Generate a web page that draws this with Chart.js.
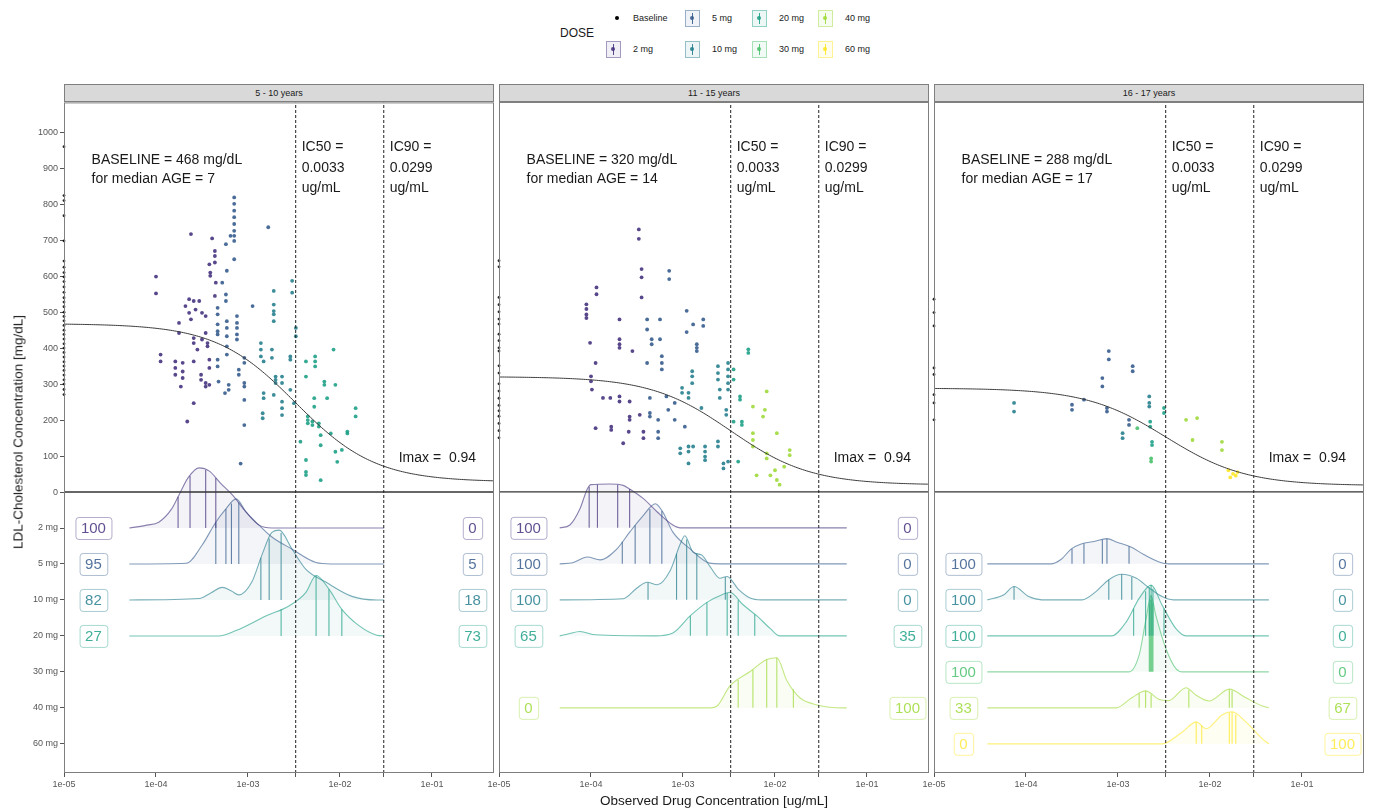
<!DOCTYPE html>
<html>
<head>
<meta charset="utf-8">
<script src="https://cdn.jsdelivr.net/npm/chart.js@4/dist/chart.umd.min.js"></script>
<style>
  body { margin:0; width:1374px; height:811px; background:#fff; position:relative; overflow:hidden;
         font-family:"Liberation Sans", Arial, sans-serif; color:#1a1a1a; }
  canvas { position:absolute; }
  .strip { position:absolute; top:84px; height:18px; background:#d9d9d9; border:1px solid #7f7f7f;
           box-sizing:border-box; font-size:9px; line-height:16px; text-align:center; color:#1a1a1a; }
  .title { position:absolute; font-size:13.5px; color:#1a1a1a; white-space:nowrap; }
  .leg-title { position:absolute; font-size:12px; color:#1a1a1a; }
  .leg-text { position:absolute; font-size:9px; color:#1a1a1a; white-space:nowrap; transform:translateY(-50%); }
  .key { position:absolute; width:15px; height:17px; box-sizing:border-box; border:1px solid; }
  .key .ln { position:absolute; left:6px; top:2px; width:1px; height:11px; }
  .key .dt { position:absolute; left:4.5px; top:5.5px; width:4px; height:4px; border-radius:50%; }
  .bdot { position:absolute; width:4px; height:4px; border-radius:50%; background:#000; }
</style>
</head>
<body>
<div id="root"></div>
<script>
// ---- categories and styling keys ----
const doses = ['2 mg', '5 mg', '10 mg', '20 mg', '30 mg', '40 mg', '60 mg'];
const doseColors = ['#46337E', '#365C8D', '#277F8E', '#1FA187', '#4AC16D', '#9FDA3A', '#FDE725'];
const doseRowY = [-100, -200, -300, -400, -500, -600, -700];
const ageGroups = ['5 - 10 years', '11 - 15 years', '16 - 17 years'];
const baselineLDL = [468, 320, 288];
const medianAge = [7, 14, 17];
const ic50 = 0.0033;
const ic90 = 0.0299;
const imax = 0.94;

// ---- axes ----
const yTickValues = [-700, -600, -500, -400, -300, -200, -100, 0, 100, 200, 300, 400, 500, 600, 700, 800, 900, 1000];
const yTickLabels = ['60 mg', '40 mg', '30 mg', '20 mg', '10 mg', '5 mg', '2 mg', '0', '100', '200', '300', '400', '500', '600', '700', '800', '900', '1000'];
const xTickValues = [1e-5, 1e-4, 1e-3, 1e-2, 1e-1];
const xTickLabels = ['1e-05', '1e-04', '1e-03', '1e-02', '1e-01'];

// ---- observations: [log10 concentration (ug/mL), LDL (mg/dL)] ----
// 5 - 10 years
const obs_p1_2mg = [[-4.0,599],[-4.0,552],[-3.95,382],[-3.95,363],[-3.79,363],[-3.79,345],[-3.79,326],[-3.75,470],[-3.75,442],[-3.73,293],[-3.71,359],[-3.71,335],[-3.71,317],[-3.68,517],[-3.66,196],[-3.64,536],[-3.64,498],[-3.62,717],[-3.62,480],[-3.59,531],[-3.57,507],[-3.59,428],[-3.59,414],[-3.59,363],[-3.59,247],[-3.55,396],[-3.53,531],[-3.51,326],[-3.51,312],[-3.5,498],[-3.5,424],[-3.46,489],[-3.46,442],[-3.46,303],[-3.46,293],[-3.44,414],[-3.44,405],[-3.42,633],[-3.42,368],[-3.42,345],[-3.42,298],[-3.41,610],[-3.41,601],[-3.39,705],[-3.36,670],[-3.36,656],[-3.36,638],[-3.36,545],[-3.35,582]];
const obs_p1_5mg = [[-3.33,512],[-3.33,494],[-3.33,466],[-3.33,447],[-3.33,438],[-3.33,368],[-3.33,349],[-3.32,307],[-3.28,582],[-3.25,275],[-3.24,689],[-3.24,549],[-3.24,531],[-3.23,615],[-3.23,475],[-3.23,456],[-3.23,433],[-3.23,405],[-3.23,382],[-3.21,298],[-3.21,284],[-3.19,712],[-3.15,819],[-3.15,801],[-3.15,782],[-3.15,764],[-3.15,745],[-3.15,726],[-3.15,712],[-3.15,698],[-3.15,647],[-3.12,489],[-3.12,470],[-3.12,456],[-3.12,438],[-3.12,424],[-3.1,340],[-3.1,326],[-3.04,373],[-3.04,359],[-3.04,303],[-3.04,293],[-3.04,256],[-3.04,186],[-3.08,79],[-2.95,517],[-2.78,736]];
const obs_p1_10mg = [[-2.86,414],[-2.86,396],[-2.86,377],[-2.83,363],[-2.83,275],[-2.83,261],[-2.84,219],[-2.84,205],[-2.74,396],[-2.74,373],[-2.72,559],[-2.72,521],[-2.72,503],[-2.72,494],[-2.72,475],[-2.72,270],[-2.7,321],[-2.7,312],[-2.7,303],[-2.63,321],[-2.63,303],[-2.63,251],[-2.63,233],[-2.63,214],[-2.54,377],[-2.54,368],[-2.54,284],[-2.52,587],[-2.52,554],[-2.5,247],[-2.48,456],[-2.48,433]];
const obs_p1_20mg = [[-2.43,140],[-2.37,363],[-2.37,321],[-2.37,89],[-2.37,56],[-2.37,47],[-2.35,210],[-2.35,200],[-2.35,191],[-2.3,196],[-2.3,186],[-2.28,261],[-2.28,237],[-2.27,377],[-2.27,363],[-2.27,349],[-2.23,191],[-2.23,182],[-2.21,158],[-2.21,130],[-2.21,33],[-2.17,307],[-2.17,298],[-2.14,261],[-2.1,163],[-2.07,396],[-2.05,298],[-2.05,112],[-2.03,84],[-1.98,117],[-1.92,168],[-1.92,163],[-1.83,233],[-1.83,210]];
const base_p1 = [960,824,810,768,698,642,625,610,598,585,570,555,540,528,515,500,488,476,463,450,438,425,412,400,388,375,362,350,338,325,312,300,285,271];
// 11 - 15 years
const obs_p2_2mg = [[-4.05,521],[-4.05,508],[-4.05,493],[-4.05,483],[-4.01,414],[-4.0,321],[-4.0,307],[-3.99,284],[-3.95,358],[-3.95,177],[-3.94,568],[-3.94,549],[-3.87,261],[-3.79,261],[-3.78,181],[-3.78,172],[-3.69,479],[-3.69,424],[-3.69,410],[-3.69,400],[-3.69,265],[-3.69,251],[-3.65,135],[-3.59,167],[-3.58,251],[-3.58,209],[-3.58,200],[-3.55,391],[-3.48,729],[-3.48,703],[-3.47,214],[-3.45,619],[-3.45,596],[-3.45,540],[-3.43,167],[-3.43,149]];
const obs_p2_5mg = [[-3.39,479],[-3.39,451],[-3.39,358],[-3.36,261],[-3.36,219],[-3.36,209],[-3.34,424],[-3.34,410],[-3.27,200],[-3.27,167],[-3.27,149],[-3.25,479],[-3.25,424],[-3.23,377],[-3.23,358],[-3.23,340],[-3.18,265],[-3.16,228],[-3.15,614],[-3.15,591],[-3.09,247],[-3.09,200],[-2.98,181],[-2.96,503],[-2.96,444],[-2.89,465],[-2.85,410],[-2.85,400],[-2.85,391],[-2.78,479],[-2.78,461]];
const obs_p2_10mg = [[-3.03,121],[-3.03,107],[-3.01,289],[-3.01,275],[-2.94,275],[-2.94,261],[-2.94,126],[-2.94,112],[-2.94,79],[-2.9,335],[-2.9,321],[-2.9,302],[-2.89,126],[-2.8,233],[-2.76,126],[-2.76,112],[-2.76,98],[-2.76,88],[-2.62,349],[-2.62,330],[-2.62,312],[-2.62,140],[-2.62,126],[-2.6,284],[-2.6,261],[-2.56,79],[-2.56,65],[-2.53,228],[-2.53,214],[-2.51,358],[-2.51,340],[-2.51,321],[-2.51,302],[-2.51,284],[-2.51,84]];
const obs_p2_20mg = [[-2.45,340],[-2.45,312],[-2.45,195],[-2.4,84],[-2.38,265],[-2.38,256],[-2.36,195],[-2.36,186],[-2.29,396],[-2.29,386]];
const obs_p2_40mg = [[-2.24,237],[-2.24,163],[-2.24,144],[-2.24,126],[-2.2,46],[-2.13,209],[-2.11,228],[-2.09,279],[-2.09,107],[-2.09,93],[-2.05,46],[-1.98,163],[-1.98,33],[-1.84,116],[-1.84,102],[-1.95,20],[-2.0,60],[-1.9,70]];
const base_p2 = [642,625,540,520,500,480,466,438,420,400,391,350,330,300,280,260,240,225,210,190,170,150];
// 16 - 17 years
const obs_p3_5mg = [[-3.5,242],[-3.5,228],[-3.37,256],[-3.17,316],[-3.17,293],[-3.12,233],[-3.12,223],[-3.1,391],[-3.1,368],[-2.88,200],[-2.88,186],[-2.84,349],[-2.84,335]];
const obs_p3_10mg = [[-4.13,247],[-4.13,223],[-2.95,163],[-2.95,149],[-2.66,265],[-2.66,247],[-2.66,237]];
const obs_p3_20mg = [[-2.65,195],[-2.65,181],[-2.63,139],[-2.63,130],[-2.5,233],[-2.5,219]];
const obs_p3_30mg = [[-2.64,93],[-2.64,84],[-2.79,177]];
const obs_p3_40mg = [[-2.26,200],[-2.14,205],[-2.19,144],[-1.87,139],[-1.87,116]];
const obs_p3_60mg = [[-1.8,60],[-1.75,50],[-1.72,45],[-1.7,55],[-1.78,40]];
const base_p3 = [535,498,461,344,326,270,247,200];

// ---- concentration densities per dose: [log10 concentration, height above the dose row] ----
const dens_p1_2mg = [[-4.29,0],[-4.1,8],[-3.97,16],[-3.83,53],[-3.75,92],[-3.65,140],[-3.53,167],[-3.42,158],[-3.3,125],[-3.17,92],[-3.02,44],[-2.88,8],[-2.74,0],[-1.52,0]];
const dens_p1_5mg = [[-4.29,0],[-3.67,2],[-3.5,52],[-3.35,116],[-3.24,153],[-3.13,181],[-3.02,144],[-2.88,108],[-2.74,75],[-2.52,41],[-2.26,4],[-2.1,0],[-1.52,0]];
const dens_p1_10mg = [[-4.29,0],[-3.53,4],[-3.4,20],[-3.28,35],[-3.18,25],[-3.1,14],[-2.96,49],[-2.85,124],[-2.74,188],[-2.66,194],[-2.52,141],[-2.37,85],[-2.15,49],[-1.87,10],[-1.6,0],[-1.52,0]];
const dens_p1_20mg = [[-4.29,0],[-3.32,0],[-3.13,15],[-2.8,56],[-2.55,84],[-2.37,121],[-2.26,168],[-2.12,130],[-1.98,74],[-1.79,28],[-1.6,2],[-1.52,0]];
const rug_p1_2mg = [-3.76,-3.63,-3.46,-3.35];
const rug_p1_5mg = [-3.35,-3.24,-3.18,-3.1];
const rug_p1_10mg = [-2.86,-2.77,-2.64];
const rug_p1_20mg = [-2.64,-2.26,-2.12,-1.98];

const dens_p2_2mg = [[-4.34,0],[-4.23,8],[-4.12,53],[-4.04,108],[-4.0,120],[-3.8,122],[-3.65,118],[-3.58,108],[-3.43,81],[-3.28,44],[-3.11,8],[-3.03,0],[-1.22,0]];
const dens_p2_5mg = [[-4.34,0],[-4.2,3],[-4.04,19],[-3.9,11],[-3.72,41],[-3.58,88],[-3.43,135],[-3.3,167],[-3.22,144],[-3.11,88],[-2.92,41],[-2.71,2],[-2.6,0],[-1.22,0]];
const dens_p2_10mg = [[-4.34,0],[-3.65,3],[-3.5,33],[-3.39,49],[-3.28,42],[-3.14,81],[-3.03,155],[-2.98,178],[-2.89,132],[-2.8,125],[-2.7,90],[-2.6,60],[-2.52,65],[-2.4,30],[-2.27,5],[-2.15,0],[-1.22,0]];
const dens_p2_20mg = [[-4.34,0],[-4.25,5],[-4.12,12],[-3.95,3],[-3.3,0],[-3.11,8],[-2.92,56],[-2.74,93],[-2.57,115],[-2.49,121],[-2.35,87],[-2.2,56],[-2.05,20],[-1.95,0],[-1.22,0]];
const dens_p2_40mg = [[-4.34,0],[-2.7,0],[-2.63,5],[-2.49,61],[-2.27,101],[-2.09,134],[-1.98,139],[-1.87,75],[-1.73,28],[-1.54,8],[-1.26,0],[-1.22,0]];
const rug_p2_2mg = [-4.02,-3.93,-3.71,-3.58];
const rug_p2_5mg = [-3.66,-3.52,-3.36,-3.23];
const rug_p2_10mg = [-3.38,-3.07,-2.96,-2.85,-2.54];
const rug_p2_20mg = [-2.92,-2.74,-2.52,-2.4,-2.22];
const rug_p2_40mg = [-2.4,-2.24,-2.09,-1.98,-1.8];

const dens_p3_5mg = [[-4.42,0],[-3.73,0],[-3.62,12],[-3.51,41],[-3.4,55],[-3.26,62],[-3.12,70],[-3.01,60],[-2.86,47],[-2.72,26],[-2.53,3],[-2.45,0],[-1.36,0]];
const dens_p3_10mg = [[-4.42,0],[-4.24,14],[-4.13,37],[-3.97,9],[-3.83,0],[-3.39,0],[-3.24,23],[-3.1,56],[-2.96,71],[-2.8,60],[-2.66,33],[-2.52,9],[-2.4,0],[-1.36,0]];
const dens_p3_20mg = [[-4.42,0],[-3.07,0],[-2.91,39],[-2.77,104],[-2.64,141],[-2.52,85],[-2.37,20],[-2.26,0],[-1.36,0]];
const dens_p3_30mg = [[-4.42,0],[-2.88,0],[-2.77,47],[-2.7,140],[-2.64,212],[-2.59,158],[-2.48,65],[-2.37,9],[-2.3,0],[-1.36,0]];
const dens_p3_40mg = [[-4.42,0],[-3.02,0],[-2.85,28],[-2.7,47],[-2.55,23],[-2.45,20],[-2.26,56],[-2.15,35],[-2.01,19],[-1.79,52],[-1.61,28],[-1.43,5],[-1.36,0]];
const dens_p3_60mg = [[-4.42,0],[-2.52,0],[-2.3,33],[-2.15,61],[-2.04,42],[-1.87,80],[-1.76,89],[-1.61,61],[-1.43,14],[-1.36,0]];
const rug_p3_5mg = [-3.5,-3.37,-3.17,-3.12,-2.88];
const rug_p3_10mg = [-4.13,-3.1,-2.96,-2.85];
const rug_p3_20mg = [-2.83,-2.7,-2.66,-2.64,-2.62,-2.5];
const rug_p3_30mg = [-2.66,-2.65,-2.64,-2.63,-2.62];
const rug_p3_40mg = [-2.77,-2.7,-2.64,-2.23,-1.79,-1.76];
const rug_p3_60mg = [-2.15,-2.09,-1.79,-1.76,-1.72];

// ---- percentage of subjects below IC50 (left) and above IC90 (right) ----
const rows_p1 = [0, 1, 2, 3];
const pctLeft_p1 = [100, 95, 82, 27];
const pctRight_p1 = [0, 5, 18, 73];
const rows_p2 = [0, 1, 2, 3, 5];
const pctLeft_p2 = [100, 100, 100, 65, 0];
const pctRight_p2 = [0, 0, 0, 35, 100];
const rows_p3 = [1, 2, 3, 4, 5, 6];
const pctLeft_p3 = [100, 100, 100, 100, 33, 0];
const pctRight_p3 = [0, 0, 0, 0, 67, 100];

// ---- assemble per-panel tables ----
const panels = [
  { obs: [obs_p1_2mg, obs_p1_5mg, obs_p1_10mg, obs_p1_20mg], obsDose: [0,1,2,3], base: base_p1,
    dens: [dens_p1_2mg, dens_p1_5mg, dens_p1_10mg, dens_p1_20mg], rug: [rug_p1_2mg, rug_p1_5mg, rug_p1_10mg, rug_p1_20mg],
    rows: rows_p1, left: pctLeft_p1, right: pctRight_p1 },
  { obs: [obs_p2_2mg, obs_p2_5mg, obs_p2_10mg, obs_p2_20mg, obs_p2_40mg], obsDose: [0,1,2,3,5], base: base_p2,
    dens: [dens_p2_2mg, dens_p2_5mg, dens_p2_10mg, dens_p2_20mg, dens_p2_40mg], rug: [rug_p2_2mg, rug_p2_5mg, rug_p2_10mg, rug_p2_20mg, rug_p2_40mg],
    rows: rows_p2, left: pctLeft_p2, right: pctRight_p2 },
  { obs: [obs_p3_5mg, obs_p3_10mg, obs_p3_20mg, obs_p3_30mg, obs_p3_40mg, obs_p3_60mg], obsDose: [1,2,3,4,5,6], base: base_p3,
    dens: [dens_p3_5mg, dens_p3_10mg, dens_p3_20mg, dens_p3_30mg, dens_p3_40mg, dens_p3_60mg], rug: [rug_p3_5mg, rug_p3_10mg, rug_p3_20mg, rug_p3_30mg, rug_p3_40mg, rug_p3_60mg],
    rows: rows_p3, left: pctLeft_p3, right: pctRight_p3 }
];

// ---- layout ----
const PANEL_LEFT = [64, 499, 934];
const PANEL_W = 430;
const CANVAS_TOP = 95, PAD_TOP = 7, PLOT_H = 671, XAXIS_H = 20, PAD_RIGHT = 10;
const CANVAS_H = PAD_TOP + PLOT_H + XAXIS_H;
const X_MIN = 1e-5, X_MAX = Math.pow(10, -0.326);
const Y_MIN = -781, Y_MAX = 1083;
const LABEL_LEFT_LOG = -4.68, LABEL_RIGHT_LOG = -0.56;

function rgba(hex, a) {
  const n = parseInt(hex.slice(1), 16);
  return `rgba(${(n >> 16) & 255},${(n >> 8) & 255},${n & 255},${a})`;
}
function densAt(dens, lx) {
  for (let i = 1; i < dens.length; i++) {
    if (lx <= dens[i][0]) {
      const [x0, y0] = dens[i - 1], [x1, y1] = dens[i];
      return y0 + (y1 - y0) * (lx - x0) / (x1 - x0);
    }
  }
  return 0;
}

const root = document.getElementById('root');
function el(tag, cls, style, text) {
  const e = document.createElement(tag);
  if (cls) e.className = cls;
  Object.assign(e.style, style || {});
  if (text != null) e.textContent = text;
  root.appendChild(e);
  return e;
}

// decorations drawn in data coordinates
const panelDecor = {
  id: 'panelDecor',
  afterDatasetsDraw(chart, args, opts) {
    const { ctx, chartArea: a, scales: { x, y } } = chart;
    const pi = opts.panel;
    const P = panels[pi];
    ctx.save();
    ctx.strokeStyle = '#7f7f7f';
    ctx.lineWidth = 1;
    ctx.strokeRect(a.left + 0.5, a.top + 0.5, a.width - 1, a.height - 1);

    ctx.fillStyle = '#1a1a1a';
    ctx.font = '14px "Liberation Sans", Arial, sans-serif';
    ctx.textBaseline = 'middle';
    ctx.textAlign = 'left';
    const bx = x.getPixelForValue(Math.pow(10, -4.7));
    ctx.fillText('BASELINE = ' + baselineLDL[pi] + ' mg/dL', bx, y.getPixelForValue(922));
    ctx.fillText('for median AGE = ' + medianAge[pi], bx, y.getPixelForValue(870));
    const i50 = x.getPixelForValue(ic50) + 6, i90 = x.getPixelForValue(ic90) + 6;
    const lines50 = ['IC50 =', ic50.toFixed(4), 'ug/mL'];
    const lines90 = ['IC90 =', ic90.toFixed(4), 'ug/mL'];
    [958, 900, 844].forEach((v, k) => {
      ctx.fillText(lines50[k], i50, y.getPixelForValue(v));
      ctx.fillText(lines90[k], i90, y.getPixelForValue(v));
    });
    ctx.textAlign = 'right';
    ctx.fillText('Imax =  ' + imax.toFixed(2), x.getPixelForValue(Math.pow(10, -0.52)), y.getPixelForValue(95));

    // percentage labels
    ctx.font = '15px "Liberation Sans", Arial, sans-serif';
    ctx.textAlign = 'center';
    const drawLabel = (txt, lx, row) => {
      const c = doseColors[row];
      const cx = x.getPixelForValue(Math.pow(10, lx));
      const cy = y.getPixelForValue(doseRowY[row]);
      const w = ctx.measureText(txt).width + 11, h = 22;
      ctx.beginPath();
      ctx.roundRect(cx - w / 2 + 0.5, cy - h / 2 + 0.5, w, h, 3);
      ctx.fillStyle = '#fff';
      ctx.fill();
      ctx.strokeStyle = rgba(c, row === 6 ? 0.45 : 0.4);
      ctx.lineWidth = 1;
      ctx.stroke();
      ctx.fillStyle = rgba(c, row === 6 ? 0.75 : 0.85);
      ctx.fillText(txt, cx, cy + 1);
    };
    P.rows.forEach((row, k) => {
      drawLabel(String(P.left[k]), LABEL_LEFT_LOG, row);
      drawLabel(String(P.right[k]), LABEL_RIGHT_LOG, row);
    });
    ctx.restore();
  }
};

function buildDatasets(pi) {
  const P = panels[pi];
  const ds = [];
  // densities and their vertical marks
  P.rows.forEach((row, k) => {
    const base = doseRowY[row];
    const c = doseColors[row];
    const d = P.dens[k];
    ds.push({
      type: 'line', data: d.map(([lx, h]) => ({ x: Math.pow(10, lx), y: base + h })),
      borderColor: rgba(c, row === 6 ? 0.6 : 0.62), borderWidth: 1.1, pointRadius: 0,
      backgroundColor: rgba(c, 0.06), fill: { value: base }, cubicInterpolationMode: 'monotone',
      order: 60 + k
    });
    const seg = [];
    P.rug[k].forEach(lx => {
      seg.push({ x: Math.pow(10, lx), y: base });
      seg.push({ x: Math.pow(10, lx), y: base + densAt(d, lx) });
      seg.push({ x: Math.pow(10, lx), y: null });
    });
    ds.push({ type: 'line', data: seg, borderColor: rgba(c, 0.75), borderWidth: 1.1, pointRadius: 0,
              spanGaps: false, fill: false, order: 55 });
  });
  // observed concentrations vs LDL
  P.obs.forEach((arr, k) => {
    const c = doseColors[P.obsDose[k]];
    ds.push({ type: 'scatter', data: arr.map(([lx, v]) => ({ x: Math.pow(10, lx), y: v })),
              pointRadius: 1.9, pointBorderWidth: 0, pointBackgroundColor: rgba(c, 0.9), order: 40 });
  });
  // baseline (pre-dose) values at the lowest concentration
  ds.push({ type: 'scatter', data: P.base.map(v => ({ x: X_MIN, y: v })), pointRadius: 1.4,
            pointBorderWidth: 0, pointBackgroundColor: 'rgba(0,0,0,0.85)', clip: false, order: 40 });
  // Imax model curve from the stated parameters
  const curve = [];
  for (let lx = -5; lx <= -0.32; lx += 0.02) {
    const c = Math.pow(10, lx);
    curve.push({ x: c, y: baselineLDL[pi] * (1 - imax * c / (ic50 + c)) });
  }
  ds.push({ type: 'line', data: curve, borderColor: '#3a3a3a', borderWidth: 1, pointRadius: 0, fill: false, order: 30 });
  // zero line
  ds.push({ type: 'line', data: [{ x: X_MIN, y: 0 }, { x: X_MAX, y: 0 }], borderColor: '#333',
            borderWidth: 1.4, pointRadius: 0, fill: false, order: 20 });
  // IC50 / IC90 reference lines
  [ic50, ic90].forEach(v => ds.push({ type: 'line', data: [{ x: v, y: Y_MIN }, { x: v, y: Y_MAX }],
            borderColor: '#222', borderWidth: 1, borderDash: [3, 2], pointRadius: 0, fill: false, order: 10 }));
  return ds;
}

ageGroups.forEach((grp, pi) => {
  const leftW = pi === 0 ? 64 : 30;
  const cv = document.createElement('canvas');
  const W = leftW + PANEL_W + PAD_RIGHT;
  cv.width = W; cv.height = CANVAS_H;
  cv.style.left = (PANEL_LEFT[pi] - leftW) + 'px';
  cv.style.top = CANVAS_TOP + 'px';
  cv.style.width = W + 'px'; cv.style.height = CANVAS_H + 'px';
  root.appendChild(cv);

  new Chart(cv, {
    type: 'scatter',
    data: { datasets: buildDatasets(pi) },
    options: {
      responsive: false, animation: false, devicePixelRatio: 1,
      layout: { padding: { top: PAD_TOP, right: PAD_RIGHT, left: 0, bottom: 0 } },
      plugins: { legend: { display: false }, tooltip: { enabled: false }, panelDecor: { panel: pi } },
      scales: {
        x: {
          type: 'logarithmic', min: X_MIN, max: X_MAX,
          afterBuildTicks: s => { s.ticks = xTickValues.concat([ic50, ic90]).sort((p, q) => p - q).map(v => ({ value: v })); },
          afterFit: s => { s.height = XAXIS_H; },
          ticks: { autoSkip: false, maxRotation: 0, padding: 2, color: '#555', font: { size: 9, family: '"Liberation Sans", Arial, sans-serif' },
                   callback: v => { const i = xTickValues.indexOf(v); return i >= 0 ? xTickLabels[i] : ''; } },
          grid: { drawOnChartArea: false, tickLength: 4, color: '#555' },
          border: { display: false }
        },
        y: {
          min: Y_MIN, max: Y_MAX,
          afterBuildTicks: s => { s.ticks = yTickValues.map(v => ({ value: v })); },
          afterFit: s => { s.width = leftW; },
          ticks: { display: pi === 0, padding: 2, color: '#555', font: { size: 9, family: '"Liberation Sans", Arial, sans-serif' },
                   callback: v => { const i = yTickValues.indexOf(v); return i >= 0 ? yTickLabels[i] : ''; } },
          grid: { display: pi === 0, drawOnChartArea: false, tickLength: 4, color: '#555' },
          border: { display: false }
        }
      }
    },
    plugins: [panelDecor]
  });

  el('div', 'strip', { left: PANEL_LEFT[pi] + 'px', width: PANEL_W + 'px' }, grp);
});

// axis titles
el('div', 'title', { left: '714px', top: '793px', transform: 'translateX(-50%)' }, 'Observed Drug Concentration [ug/mL]');
el('div', 'title', { left: '18px', top: '432px', transform: 'translate(-50%,-50%) rotate(-90deg)' }, 'LDL-Cholesterol Concentration [mg/dL]');

// legend
const legCols = [613, 692, 759, 825];
const legRows = [18, 49];
el('div', 'leg-title', { left: '560px', top: '26px' }, 'DOSE');
const legItems = ['Baseline'].concat(doses);
legItems.forEach((name, i) => {
  const cx = legCols[Math.floor(i / 2)], cy = legRows[i % 2];
  if (i === 0) {
    el('div', 'bdot', { left: (cx + 2) + 'px', top: (cy - 2) + 'px' });
  } else {
    const c = doseColors[i - 1];
    const k = el('div', 'key', { left: (cx - 7.5) + 'px', top: (cy - 8.5) + 'px', borderColor: rgba(c, 0.45), background: rgba(c, 0.08) });
    const ln = document.createElement('div'); ln.className = 'ln'; ln.style.background = rgba(c, 0.9); k.appendChild(ln);
    const dt = document.createElement('div'); dt.className = 'dt'; dt.style.background = rgba(c, 0.9); k.appendChild(dt);
  }
  el('div', 'leg-text', { left: (cx + 20) + 'px', top: cy + 'px' }, name);
});
</script>
</body>
</html>
